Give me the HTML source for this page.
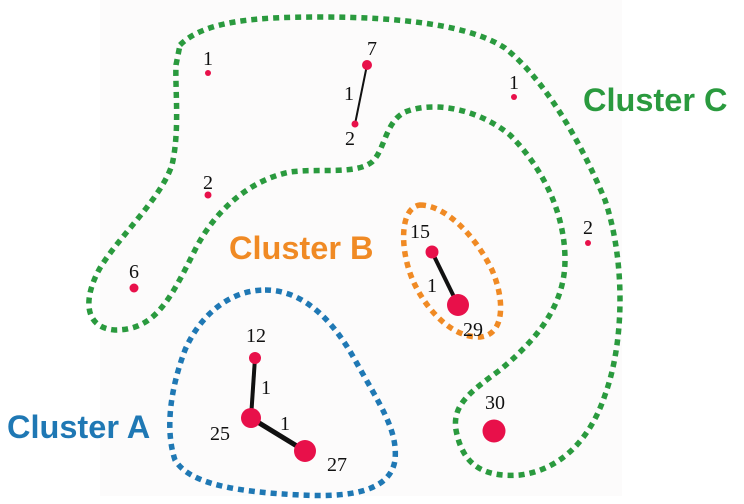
<!DOCTYPE html>
<html><head><style>
html,body{margin:0;padding:0;background:#fff;}
svg{display:block;}
.n{font-family:"Liberation Serif",serif;font-size:20px;fill:#111;text-anchor:middle;}
.c{font-family:"Liberation Sans",sans-serif;font-weight:bold;font-size:32.5px;}
</style></head><body>
<svg width="744" height="504" viewBox="0 0 744 504" xmlns="http://www.w3.org/2000/svg">
<rect x="100" y="0" width="522" height="496" fill="#fcfbfb"/>
<path d="M180,45 C205,20 260,17 320,17 C400,17 470,25 505,48 C545,80 580,140 605,200 C625,260 625,340 605,395 C590,440 560,470 520,475 C480,478 462,462 456,430 C452,405 470,392 500,370 C530,345 565,310 565,260 C565,210 540,165 510,135 C480,110 435,100 405,112 C385,122 385,150 372,162 C355,175 320,168 290,172 C250,180 215,210 195,250 C170,300 155,330 115,330 C85,328 82,300 100,268 C120,235 160,200 172,165 C180,130 175,90 176,65 Z" fill="none" stroke="#2a9a3e" stroke-width="5.5" stroke-dasharray="6 5"/>
<path d="M265,290 C300,290 330,315 355,360 C380,405 398,430 395,460 C390,495 340,497 300,495 C240,492 190,485 175,460 C165,430 170,390 185,350 C200,315 230,290 265,290 Z" fill="none" stroke="#1f78b4" stroke-width="5.5" stroke-dasharray="6 5"/>
<path d="M420,205 C445,205 475,235 492,270 C505,300 505,335 480,337 C455,338 430,315 415,285 C400,255 398,208 420,205 Z" fill="none" stroke="#f08a24" stroke-width="5.5" stroke-dasharray="6 5"/>
<g stroke="#111">
<line x1="367" y1="65" x2="355" y2="124" stroke-width="2"/>
<line x1="432" y1="252" x2="458" y2="305" stroke-width="4"/>
<line x1="255" y1="358" x2="251" y2="418" stroke-width="4"/>
<line x1="251" y1="418" x2="305" y2="451" stroke-width="5"/>
</g>
<g fill="#e8104a">
<circle cx="208" cy="73" r="3"/>
<circle cx="367" cy="65" r="5"/>
<circle cx="355" cy="124" r="3.5"/>
<circle cx="514" cy="97" r="3"/>
<circle cx="208" cy="195" r="3.5"/>
<circle cx="134" cy="288" r="4.5"/>
<circle cx="588" cy="243" r="3"/>
<circle cx="432" cy="252" r="6.5"/>
<circle cx="458" cy="305" r="11"/>
<circle cx="255" cy="358" r="6"/>
<circle cx="251" cy="418" r="10"/>
<circle cx="305" cy="451" r="11"/>
<circle cx="494" cy="431" r="11.5"/>
</g>
<g class="n">
<text x="208" y="65">1</text>
<text x="372" y="55">7</text>
<text x="349" y="100">1</text>
<text x="350" y="145">2</text>
<text x="514" y="89">1</text>
<text x="208" y="189">2</text>
<text x="134" y="278">6</text>
<text x="588" y="234">2</text>
<text x="420" y="238">15</text>
<text x="432" y="292">1</text>
<text x="473" y="336">29</text>
<text x="256" y="342">12</text>
<text x="266" y="394">1</text>
<text x="285" y="430">1</text>
<text x="220" y="440">25</text>
<text x="337" y="471">27</text>
<text x="495" y="409">30</text>
</g>
<text class="c" x="583" y="111" fill="#2a9a3e">Cluster C</text>
<text class="c" x="229" y="259" fill="#f08a24">Cluster B</text>
<text class="c" x="7" y="438" fill="#1f78b4">Cluster A</text>
</svg>
</body></html>
